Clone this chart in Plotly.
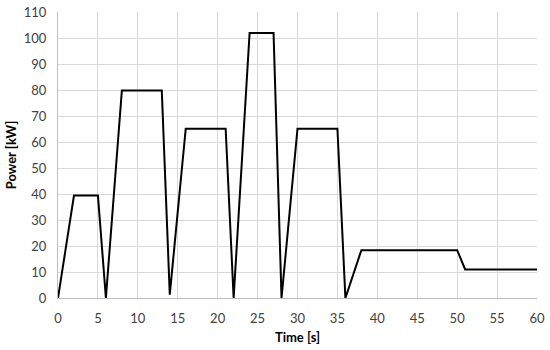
import plotly.graph_objects as go

# power profile
time_s = [0, 2, 5, 6, 8, 13, 14, 16, 21, 22, 24, 27, 28, 30, 35, 36, 38, 50, 51, 60]
power_kw = [0, 39.4, 39.4, 0, 79.8, 79.8, 1.3, 65.1, 65.1, 0, 101.9, 101.9, 0, 65.1, 65.1, 0, 18.4, 18.4, 11.0, 11.0]

x_ticks = list(range(0, 61, 5))
y_ticks = list(range(0, 111, 10))

fig = go.Figure()

fig.add_trace(go.Scatter(x=time_s, y=power_kw, mode='lines',
                         line=dict(color='black', width=2), showlegend=False))

axis_font = dict(family='Lato, Open Sans, sans-serif', size=13, color='#404040')
title_font = dict(family='Lato, Open Sans, sans-serif', size=13, color='black')

fig.update_xaxes(range=[0, 60], tickvals=x_ticks, showgrid=True, gridcolor='#d9d9d9',
                 gridwidth=1, zeroline=False, showline=True, linecolor='#bfbfbf',
                 tickfont=axis_font, ticks='', ticklabelstandoff=8, automargin=False,
                 ticklabeloverflow='allow',
                 title=dict(text='<b>Time [s]</b>', font=title_font, standoff=8))
fig.update_yaxes(range=[0, 110], tickvals=y_ticks, showgrid=True, gridcolor='#d9d9d9',
                 gridwidth=1, zeroline=False, showline=True, linecolor='#bfbfbf',
                 tickfont=axis_font, ticks='', ticklabelstandoff=8, automargin=False,
                 ticklabeloverflow='allow',
                 title=dict(text='<b>Power [kW]</b>', font=title_font, standoff=4))

fig.update_layout(width=550, height=350, plot_bgcolor='white', paper_bgcolor='white',
                  margin=dict(l=58, r=13, t=12, b=52))

# drop the default 8px body margin so the figure sits at the window corner
fig.write_html("out.html", config={'displayModeBar': False},
               post_script="document.body.style.margin = '0';")
